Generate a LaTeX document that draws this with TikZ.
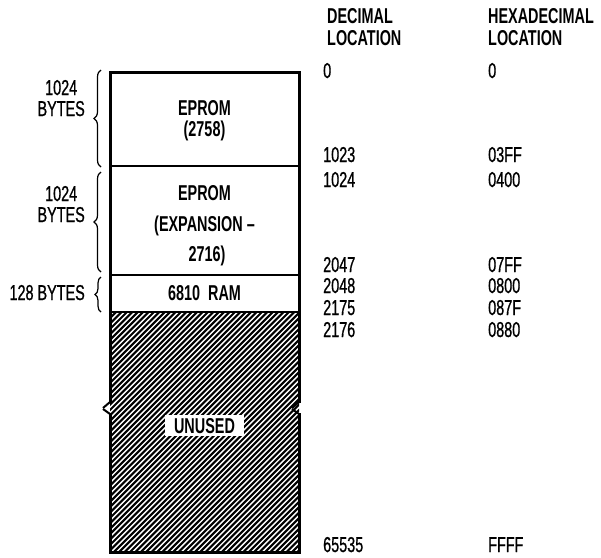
\documentclass[tikz,border=0pt]{standalone}
\usepackage{fontspec}
\setmainfont{Liberation Sans}[FakeStretch=0.67, UprightFeatures={FakeBold=0.8}]
\usepackage{tikz}
\usetikzlibrary{decorations.pathreplacing}
\tikzset{
  frame/.style={line width=3pt},
  divider/.style={line width=1.6pt},
  hatch/.style={line width=2.1pt},
  block/.style={font=\bfseries, anchor=base, inner sep=0pt},
  addr/.style={anchor=base west, inner sep=0pt},
  heading/.style={anchor=base west, inner sep=0pt, font=\bfseries, align=left},
  sizelabel/.style={anchor=base east, inner sep=0pt, align=center},
  span/.style={decorate, decoration={brace, amplitude=7pt}, line width=1.2pt}
}

\begin{document}
\begin{tikzpicture}[x=1pt, y=-1pt]
  \fontsize{21.5}{21}\selectfont
  \useasboundingbox (0,0) rectangle (601,557);
  % hatched (unused) area
  \begin{scope}
    \clip (110,312) rectangle (299,552);
    \foreach \k in {0,...,85}
      \draw[hatch] ({-140+5.4*\k},552) -- ++(250,-250);
  \end{scope}
  % memory blocks
  \fill[white] (110,72) rectangle (299,312);
  \draw[divider] (110,166) -- (299,166);
  \draw[divider] (110,275) -- (299,275);
  \draw[line width=2.2pt] (110,312) -- (299,312);
  \draw[frame] (110,403) -- (110,72) -- (299,72) -- (299,403);
  \draw[frame] (110,413) -- (110,552) -- (299,552) -- (299,413);
  % break marks
  \draw[line width=2pt] (110,402) -- (103,408);
  \draw[line width=2pt] (110,414) -- (103,409);
  \draw[line width=2pt] (299,402) -- (292,408);
  \draw[line width=2pt] (299,414) -- (292,409);
  \node[block] (rom1a) at (204.5,115) {EPROM};
  \node[block] (rom1b) at (204.5,136) {(2758)};
  \node[block] (rom2a) at (204.5,200) {EPROM};
  \node[block] (rom2b) at (204.5,231) {(EXPANSION --};
  \node[block] (rom2c) at (207,261) {2716)};
  \node[block] (ram) at (204.5,300) {6810\ \ RAM};
  \node[block, fill=white, inner xsep=9pt, inner ysep=3pt] (unused) at (204.5,433) {UNUSED};
  % sizes
  \coordinate (b1top) at (101,70);
  \coordinate (b1bot) at (101,167);
  \coordinate (b2top) at (101,172);
  \coordinate (b2bot) at (101,272);
  \coordinate (b3top) at (101,277);
  \coordinate (b3bot) at (101,312);
  \draw[span] (b1bot) -- (b1top);
  \draw[span] (b2bot) -- (b2top);
  \draw[span, decoration={amplitude=6pt}] (b3bot) -- (b3top);
  \node[sizelabel] (size1) at (85,116) {1024\\BYTES};
  \node[sizelabel] (size2) at (85,222) {1024\\BYTES};
  \node[sizelabel] (size3) at (85,300) {128 BYTES};
  % address columns
  \node[heading] (dechead) at (327,23) {DECIMAL};
  \node[heading] (dechead2) at (327,45) {LOCATION};
  \node[heading] (hexhead) at (488,23) {HEXADECIMAL};
  \node[heading] (hexhead2) at (488,45) {LOCATION};
  \foreach \dec/\hex/\y in {0/0/78, 1023/03FF/162, 1024/0400/187,
      2047/07FF/272, 2048/0800/293, 2175/087F/315, 2176/0880/337,
      65535/FFFF/552}{
    \node[addr] (dec\dec) at (323,\y) {\dec};
    \node[addr] (hex\dec) at (488,\y) {\hex};
  }
\end{tikzpicture}
\end{document}
